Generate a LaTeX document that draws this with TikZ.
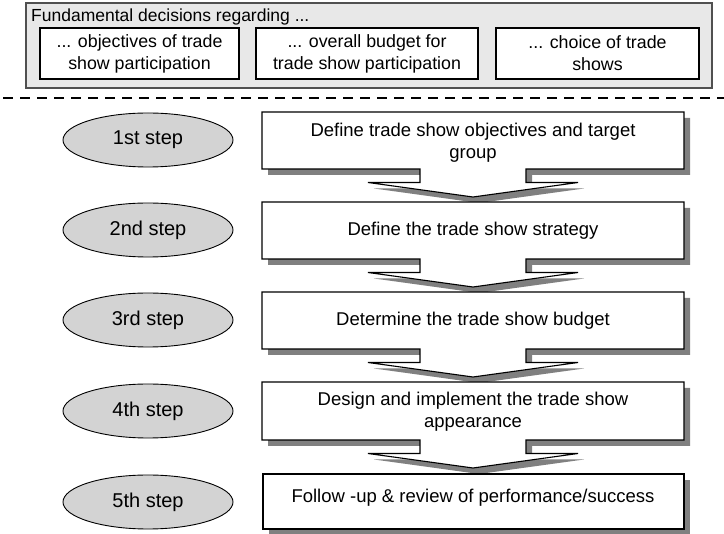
\documentclass[tikz,border=0pt]{standalone}
\usepackage{fontspec}
\setmainfont{Liberation Sans}
\usetikzlibrary{shapes.geometric}
\definecolor{shadowgray}{HTML}{808080}
\definecolor{ovalgray}{HTML}{D3D3D3}
\definecolor{panelgray}{HTML}{E8E8E8}
\definecolor{panelline}{HTML}{505050}
\begin{document}
\begin{tikzpicture}[x=1pt,y=-1pt,
  txt/.style={font=\fontsize{18.5}{22}\selectfont, align=center, inner sep=0pt},
  toptxt/.style={font=\fontsize{17.5}{22}\selectfont, align=center, inner sep=0pt},
  stepoval/.style={ellipse, draw, line width=0.9pt, fill=ovalgray,
    minimum width=170pt, minimum height=54pt, inner sep=0pt,
    font=\fontsize{20}{24}\selectfont},
  decbox/.style={draw, line width=1.2pt, fill=white, inner sep=0pt,
    minimum height=51pt, align=center, font=\fontsize{17.8}{22}\selectfont},
  panel/.style={draw=panelline, line width=1.2pt, fill=panelgray},
  stepshadow/.style={fill=shadowgray, xshift=6pt, yshift=-6pt},
  stepframe/.style={draw, line width=1.1pt, fill=white},
  dashline/.style={line width=2.6pt, dash pattern=on 10pt off 7pt}]
\useasboundingbox (0,0) rectangle (724,534);

% fundamental decisions panel
\draw[panel] (26,3) rectangle (712,88);
\node[toptxt, anchor=base west] (title) at (31,22) {Fundamental decisions regarding ...};
\node[decbox, minimum width=199pt] (d1) at (139.5,53.5) {... objectives of trade\\show participation};
\node[decbox, minimum width=222pt] (d2) at (367,53.5) {... overall budget for\\trade show participation};
\node[decbox, minimum width=203pt] (d3) at (597.5,53.5) {... choice of trade\\shows};

% separator
\coordinate (sepl) at (3,98);
\coordinate (sepr) at (724,98);
\draw[dashline] (sepl) -- (sepr);

% step boxes with downward arrow callouts
\foreach \t/\b in {112/169, 202/259, 292/349, 382/440} {
  \pgfmathsetmacro\s{\b+13.5}
  \pgfmathsetmacro\p{\b+28}
  \fill[stepshadow] (262,\t) -- (684,\t) -- (684,\b) -- (526,\b) -- (526,\s)
    -- (578,\s) -- (473,\p) -- (368,\s) -- (420,\s) -- (420,\b) -- (262,\b) -- cycle;
  \draw[stepframe] (262,\t) -- (684,\t) -- (684,\b) -- (526,\b) -- (526,\s)
    -- (578,\s) -- (473,\p) -- (368,\s) -- (420,\s) -- (420,\b) -- (262,\b) -- cycle;
}
% last step box
\fill[stepshadow] (263,474) rectangle (684,529);
\draw[stepframe] (263,474) rectangle (684,529);

% step texts
\node[txt] (s1) at (473,143) {Define trade show objectives and target\\group};
\node[txt] (s2) at (473,231) {Define the trade show strategy};
\node[txt] (s3) at (473,321) {Determine the trade show budget};
\node[txt] (s4) at (473,412) {Design and implement the trade show\\appearance};
\node[txt] (s5) at (473,498) {Follow -up \& review of performance/success};

% step labels
\node[stepoval] (e1) at (148,140) {1st step};
\node[stepoval] (e2) at (148,230) {2nd step};
\node[stepoval] (e3) at (148,320) {3rd step};
\node[stepoval] (e4) at (148,411) {4th step};
\node[stepoval] (e5) at (148,502) {5th step};
\end{tikzpicture}
\end{document}
